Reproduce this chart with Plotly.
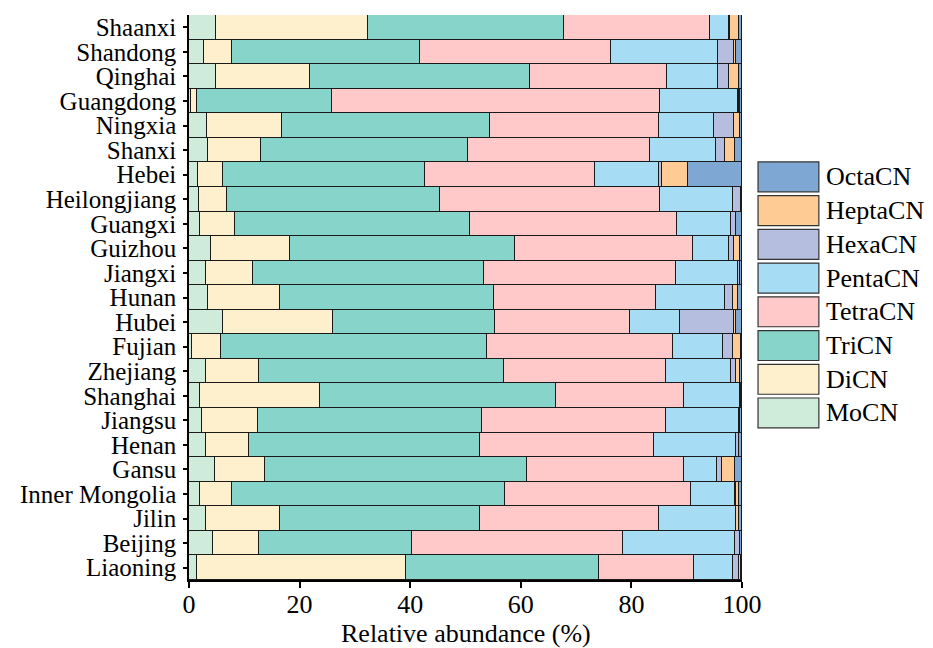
import plotly.graph_objects as go

regions = ["Shaanxi", "Shandong", "Qinghai", "Guangdong", "Ningxia", "Shanxi", "Hebei",
           "Heilongjiang", "Guangxi", "Guizhou", "Jiangxi", "Hunan", "Hubei", "Fujian",
           "Zhejiang", "Shanghai", "Jiangsu", "Henan", "Gansu", "Inner Mongolia", "Jilin",
           "Beijing", "Liaoning"]

MoCN = [4.9, 2.7, 4.9, 0.3, 3.3, 3.5, 1.7, 1.8, 1.9, 3.9, 3.0, 3.4, 6.1, 0.5, 3.1, 2.0, 2.4, 3.1, 4.7, 2.0, 3.1, 4.3, 1.4]
DiCN = [27.4, 5.0, 16.9, 1.2, 13.5, 9.6, 4.5, 5.1, 6.4, 14.4, 8.6, 13.1, 19.9, 5.3, 9.6, 21.6, 10.0, 7.8, 9.1, 5.8, 13.4, 8.3, 37.8]
TriCN = [35.5, 34.1, 39.9, 24.3, 37.6, 37.4, 36.5, 38.4, 42.6, 40.7, 41.7, 38.7, 29.3, 48.0, 44.3, 42.8, 40.5, 41.7, 47.4, 49.4, 36.1, 27.8, 35.0]
TetraCN = [26.5, 34.6, 24.7, 59.4, 30.6, 32.8, 30.8, 39.9, 37.3, 32.1, 34.7, 29.2, 24.4, 33.8, 29.2, 23.2, 33.4, 31.5, 28.4, 33.5, 32.4, 38.1, 17.2]
PentaCN = [3.4, 19.3, 9.2, 14.0, 9.9, 12.0, 11.5, 13.1, 9.9, 6.5, 11.2, 12.6, 9.1, 8.9, 11.9, 10.1, 13.2, 14.9, 5.9, 8.0, 13.9, 20.2, 6.9]
HexaCN = [0.2, 2.8, 2.0, 0.3, 3.6, 1.7, 0.6, 1.5, 0.8, 1.0, 0.5, 1.4, 9.7, 1.8, 0.8, 0.1, 0.2, 0.4, 0.9, 0.3, 0.1, 1.0, 1.2]
HeptaCN = [1.5, 0.4, 1.9, 0.1, 1.1, 1.7, 4.6, 0.0, 0.1, 1.1, 0.0, 0.9, 0.5, 1.5, 0.7, 0.0, 0.0, 0.0, 2.3, 0.5, 0.5, 0.0, 0.3]
OctaCN = [0.6, 1.1, 0.5, 0.4, 0.4, 1.3, 9.8, 0.2, 1.0, 0.3, 0.3, 0.7, 1.0, 0.2, 0.4, 0.2, 0.3, 0.6, 1.3, 0.5, 0.5, 0.3, 0.2]

series_names = ["MoCN", "DiCN", "TriCN", "TetraCN", "PentaCN", "HexaCN", "HeptaCN", "OctaCN"]
series_values = [MoCN, DiCN, TriCN, TetraCN, PentaCN, HexaCN, HeptaCN, OctaCN]
colors = ["#CFEBD9", "#FEF0CD", "#87D5CA", "#FFC9CA", "#A6DDF5", "#B5BEDF", "#FECB95", "#7EA7D4"]

x_ticks = [0, 20, 40, 60, 80, 100]
x_title = "Relative abundance (%)"
FONT = "Liberation Serif, Times New Roman, Times, serif"
FS = 26

fig = go.Figure()
for name, vals, col in zip(series_names, series_values, colors):
    fig.add_trace(go.Bar(
        y=regions, x=vals, name=name, orientation="h",
        marker=dict(color=col, line=dict(color="#1a1a1a", width=1)),
        showlegend=False,
    ))

# Manual legend (large swatches like the reference), top item = OctaCN
leg_x0, leg_x1 = 1.029, 1.139
top = 0.740
h = 0.053
pitch = 0.0597
for i, (name, col) in enumerate(zip(series_names[::-1], colors[::-1])):
    y1 = top - i * pitch
    y0 = y1 - h
    fig.add_shape(type="rect", xref="paper", yref="paper",
                  x0=leg_x0, x1=leg_x1, y0=y0, y1=y1,
                  fillcolor=col, line=dict(color="#333333", width=1.2))
    fig.add_annotation(xref="paper", yref="paper", x=1.148, y=(y0 + y1) / 2,
                       text=name, showarrow=False, xanchor="left", yanchor="middle",
                       font=dict(family=FONT, size=FS, color="black"))

# x-axis title
fig.add_annotation(xref="paper", yref="paper", x=0.5, y=-0.094, text=x_title,
                   showarrow=False, xanchor="center", yanchor="middle",
                   font=dict(family=FONT, size=FS, color="black"))

fig.update_layout(
    barmode="stack", bargap=0,
    width=933, height=648,
    margin=dict(l=181, r=199, t=7, b=76),
    plot_bgcolor="white", paper_bgcolor="white",
    font=dict(family=FONT, size=FS, color="black"),
    xaxis=dict(range=[0, 100], tickvals=x_ticks, ticktext=[str(t) for t in x_ticks],
               showgrid=False, zeroline=False, showline=True, linecolor="black", linewidth=1.5,
               ticks="outside", ticklen=6, tickwidth=1.5, tickcolor="black", automargin=False,
               tickfont=dict(family=FONT, size=FS, color="black"), ticklabelstandoff=-6),
    yaxis=dict(categoryorder="array", categoryarray=regions, autorange="reversed",
               tickmode="array", tickvals=regions, ticktext=regions,
               showgrid=False, zeroline=False, showline=True, linecolor="black", linewidth=1.5,
               ticks="outside", ticklen=4, tickwidth=1.5, tickcolor="black", automargin=False,
               tickfont=dict(family=FONT, size=25, color="black"), ticklabelstandoff=2),
)

fig.write_html("out.html")
